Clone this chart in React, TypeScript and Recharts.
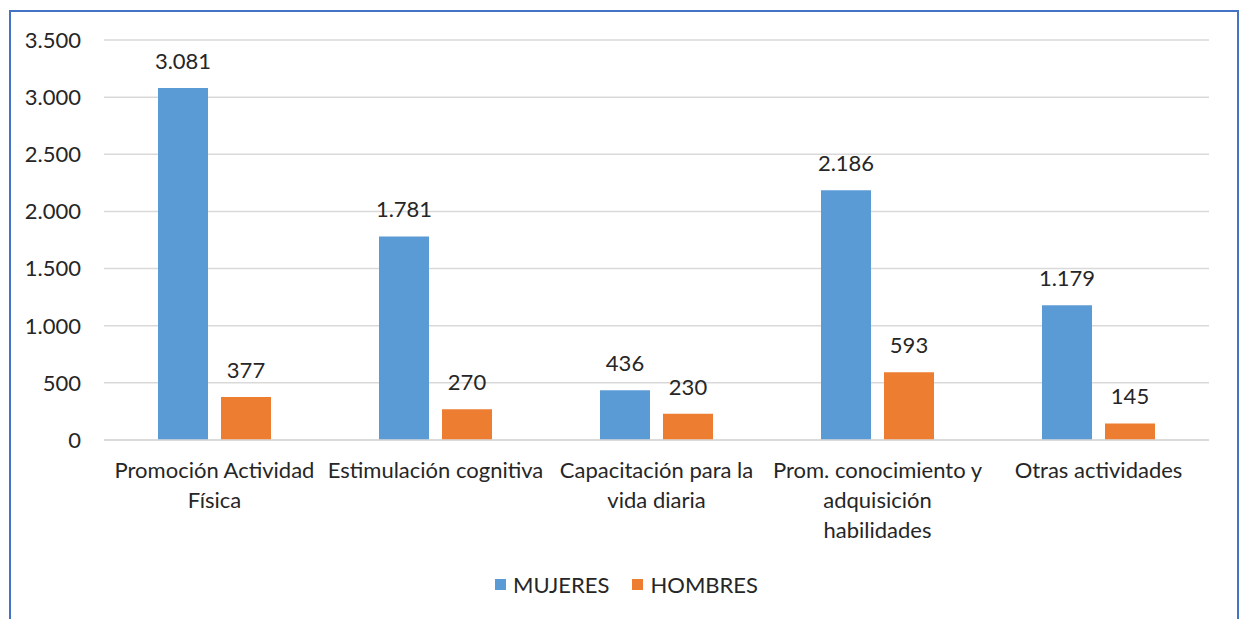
import React from 'react';
import { BarChart, Bar, XAxis, YAxis, CartesianGrid, Legend, LabelList } from 'recharts';

const categories = [
  'Promoción Actividad\nFísica',
  'Estimulación cognitiva',
  'Capacitación para la\nvida diaria',
  'Prom. conocimiento y\nadquisición\nhabilidades',
  'Otras actividades',
];
const mujeres = [3081, 1781, 436, 2186, 1179];
const hombres = [377, 270, 230, 593, 145];
const yTicks = [0, 500, 1000, 1500, 2000, 2500, 3000, 3500];

const data = categories.map((c, i) => ({ name: c, MUJERES: mujeres[i], HOMBRES: hombres[i] }));

const FONT = 'Lato, "Open Sans", sans-serif';
const TEXT = '#262626';
const BLUE = '#5B9BD5';
const ORANGE = '#ED7D31';
const FS = 22;

const fmt = (v: number | string) => String(v).replace(/\B(?=(\d{3})+(?!\d))/g, '.');

const XTick = (props: any) => {
  const { x, y, payload } = props;
  const lines = String(payload.value).split('\n');
  return (
    <text x={x} y={y} textAnchor="middle" fill={TEXT} fontSize={FS} fontFamily={FONT}>
      {lines.map((l, i) => (
        <tspan key={i} x={x} dy={i === 0 ? 0 : 30}>{l}</tspan>
      ))}
    </text>
  );
};

const LegendContent = () => (
  <div style={{ display: 'flex', justifyContent: 'center', alignItems: 'center', height: 24, fontFamily: FONT, fontSize: FS, color: TEXT, paddingLeft: 14 }}>
    <span style={{ display: 'inline-block', width: 11, height: 11, background: BLUE, marginRight: 7 }} />
    <span style={{ marginRight: 23 }}>MUJERES</span>
    <span style={{ display: 'inline-block', width: 11, height: 11, background: ORANGE, marginRight: 7 }} />
    <span>HOMBRES</span>
  </div>
);

export default function App() {
  return (
    <div style={{ position: 'absolute', left: 0, top: 0, width: 1239, height: 619, background: '#fff', overflow: 'hidden' }}>
      <div style={{ position: 'absolute', left: 9, top: 10, width: 1226, height: 700, borderLeft: '2px solid #4472C4', borderTop: '2px solid #4472C4', borderRight: '2px solid #4472C4' }} />
      <div style={{ position: 'absolute', left: 0, top: 0 }}>
        <BarChart width={1239} height={619} data={data} margin={{ top: 40, right: 30, left: 0, bottom: 45 }} barGap={13} barSize={50}>
          <CartesianGrid vertical={false} stroke="#d9d9d9" strokeWidth={1.5} />
          <YAxis
            domain={[0, 3500]}
            ticks={yTicks}
            width={104}
            axisLine={false}
            tickLine={false}
            tickSize={0}
            tickMargin={23}
            tickFormatter={fmt}
            tick={{ fill: TEXT, fontSize: FS, fontFamily: FONT }}
          />
          <XAxis
            dataKey="name"
            height={110}
            axisLine={{ stroke: '#d9d9d9', strokeWidth: 1.5 }}
            tickLine={false}
            tickSize={0}
            tickMargin={38}
            interval={0}
            tick={<XTick />}
          />
          <Legend verticalAlign="bottom" content={<LegendContent />} wrapperStyle={{ bottom: 23, left: 0, width: 1239 }} />
          <Bar dataKey="MUJERES" fill={BLUE} isAnimationActive={false}>
            <LabelList dataKey="MUJERES" position="top" offset={19} formatter={fmt} fill={TEXT} fontSize={FS} fontFamily={FONT} />
          </Bar>
          <Bar dataKey="HOMBRES" fill={ORANGE} isAnimationActive={false}>
            <LabelList dataKey="HOMBRES" position="top" offset={19} formatter={fmt} fill={TEXT} fontSize={FS} fontFamily={FONT} />
          </Bar>
        </BarChart>
      </div>
    </div>
  );
}
